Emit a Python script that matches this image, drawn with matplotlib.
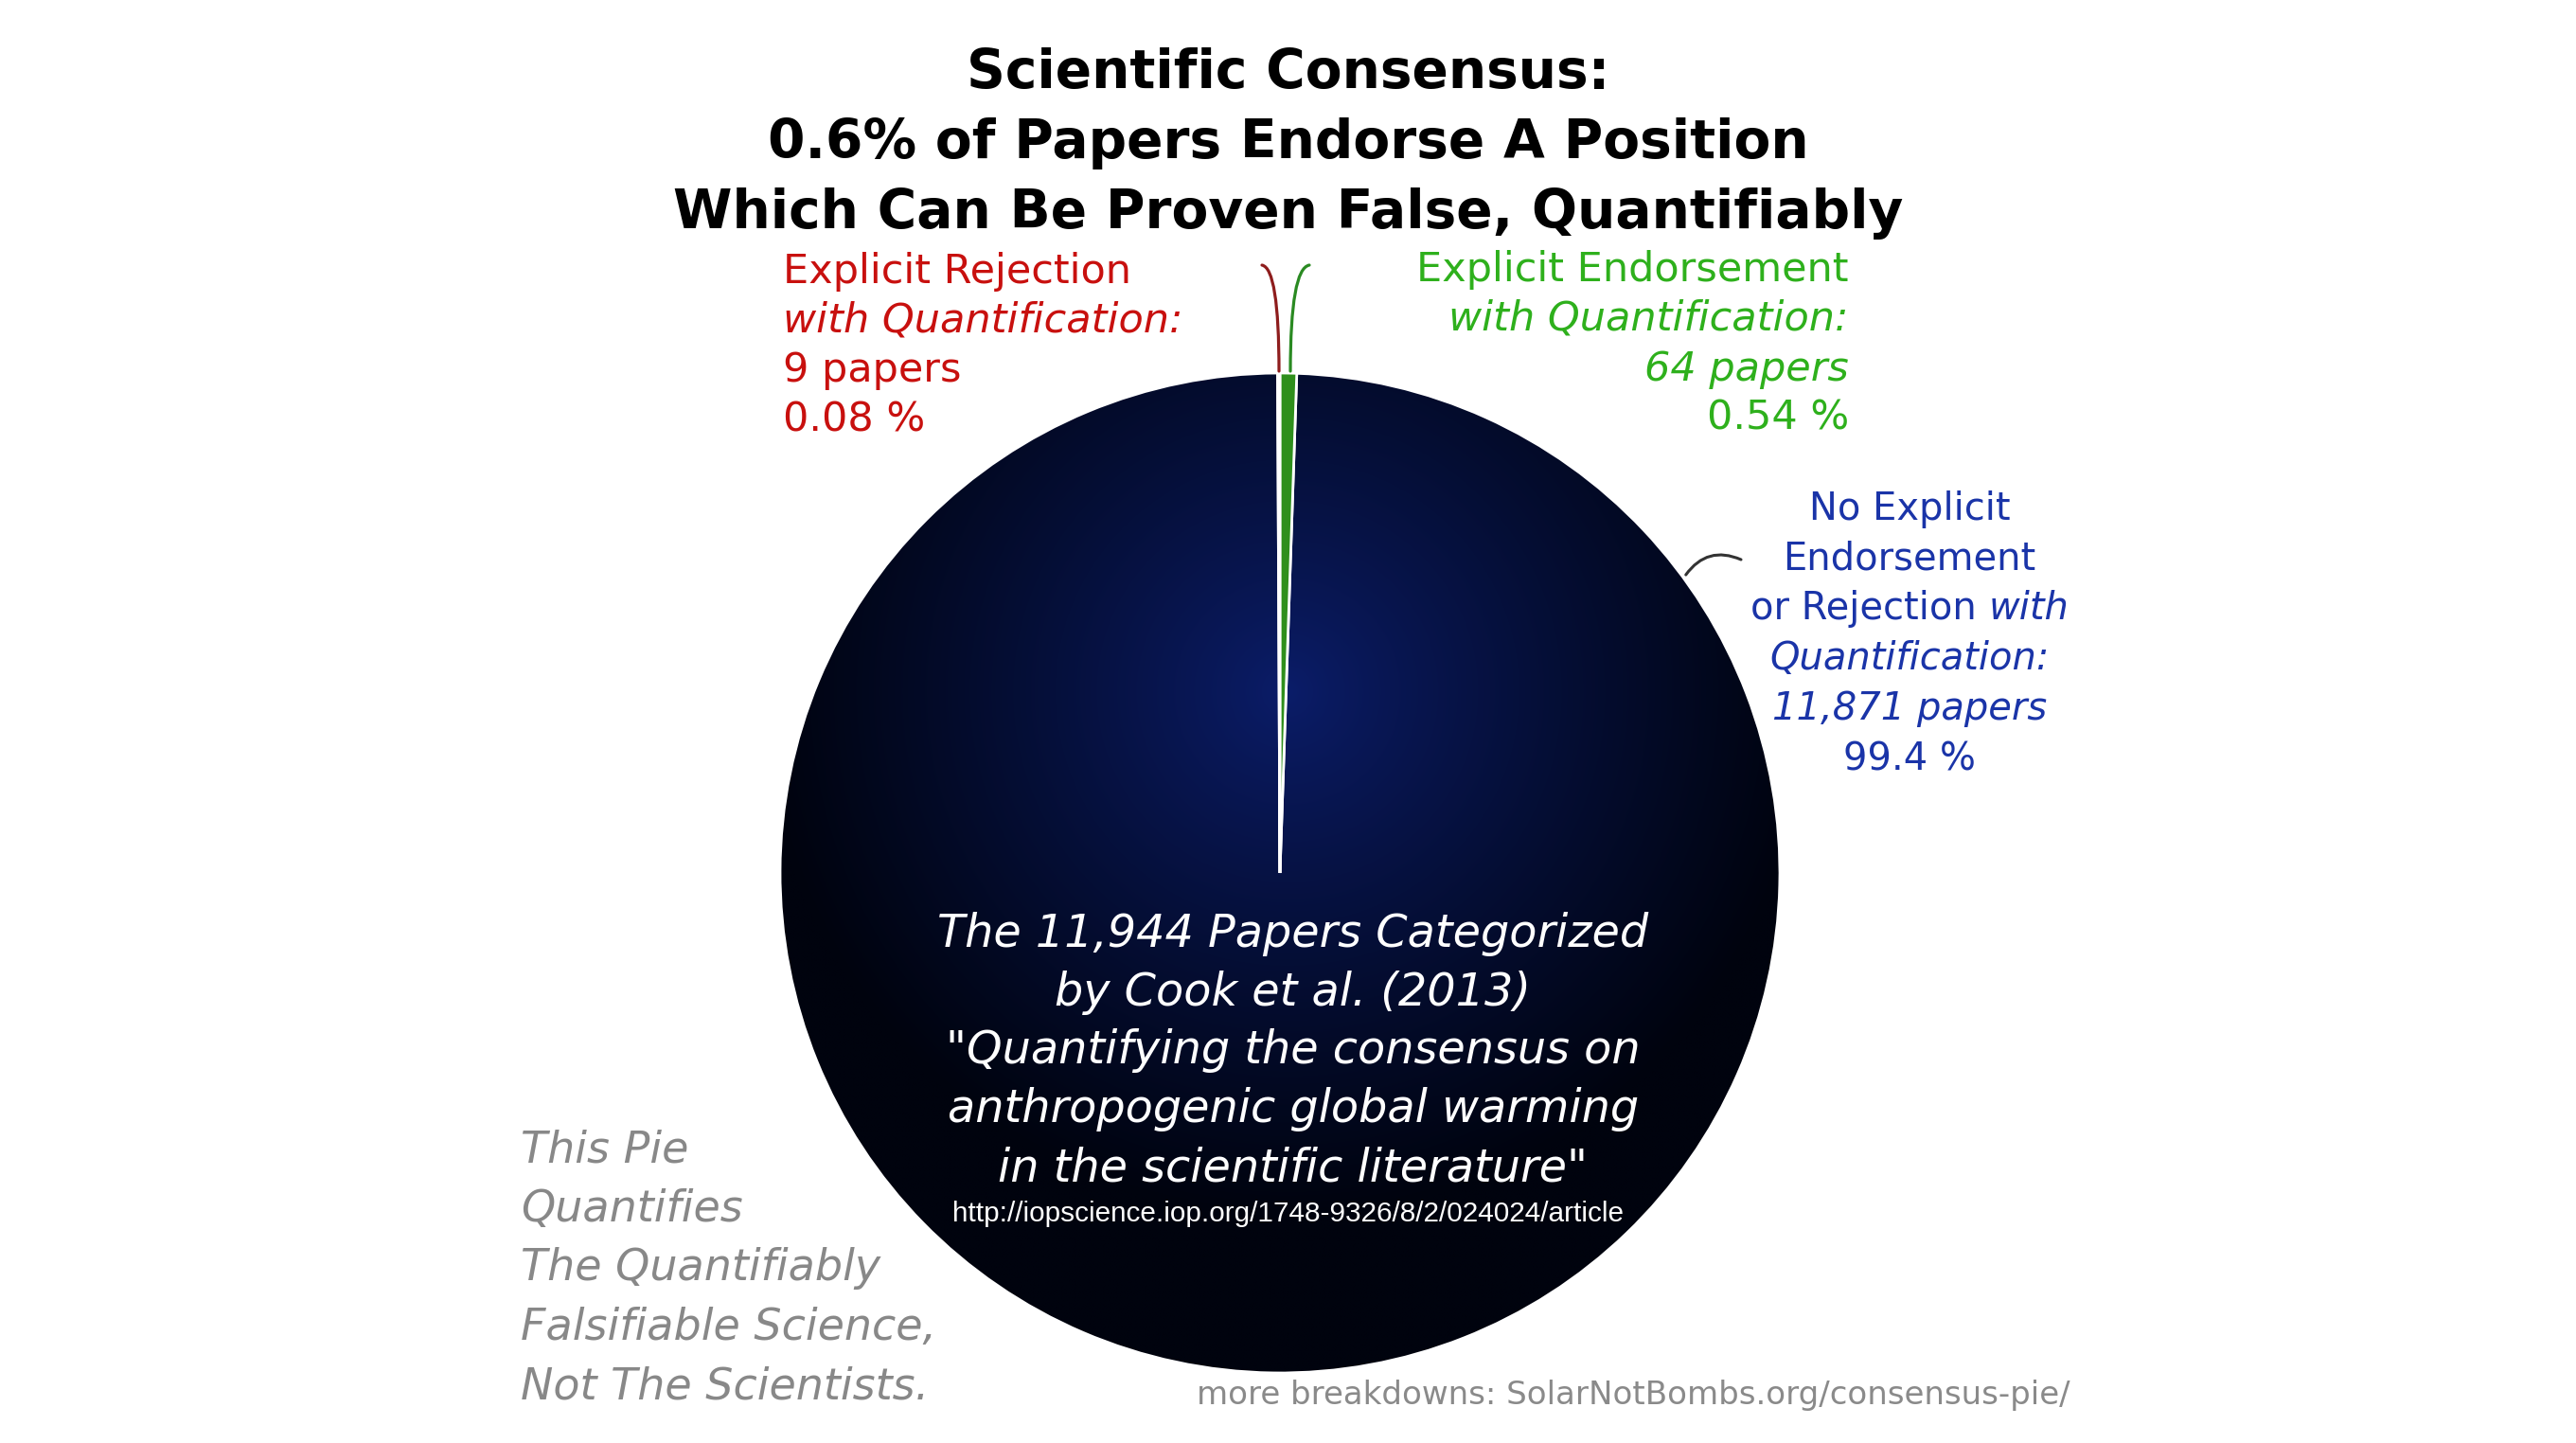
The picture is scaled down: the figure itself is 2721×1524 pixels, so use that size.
import numpy as np
import matplotlib
matplotlib.use("Agg")
from matplotlib import pyplot as plt
from matplotlib.colors import to_rgb

# data (Cook et al. 2013, papers with quantification)
categories = ["Explicit Endorsement", "No Explicit Endorsement or Rejection", "Explicit Rejection"]
counts = [64, 11871, 9]
slice_colors = ["#2f8f1c", "#0a1a5c", "white"]
total_papers = 11944

W, H = 2721, 1524
cx, cy, R = 1352, 922, 528   # pie centre / radius in image pixels


def Y(v):
    # image row -> data y
    return H - v


def pt(px):
    return px * 0.72


fig = plt.figure(figsize=(W / 100, H / 100), dpi=100)
ax = fig.add_axes([0, 0, 1, 1])

wedges, _ = ax.pie(counts, colors=slice_colors, startangle=90, counterclock=False,
                   center=(cx, Y(cy)), radius=R,
                   wedgeprops=dict(edgecolor="white", linewidth=2.0))
ax.set_xlim(0, W)
ax.set_ylim(0, H)
ax.set_aspect("equal")
ax.axis("off")

# radial gradient under the big slice (slice itself only keeps its white edge)
n = 600
xs = np.linspace(cx - R, cx + R, n)
ys = np.linspace(cy - R, cy + R, n)
gx, gy = np.meshgrid(xs, ys)
d = np.hypot(gx - 1360, gy - 730) / (R * 1.05)
d = np.clip(d, 0, 1) ** 0.85
c0 = np.array(to_rgb("#0b1d6a"))
c1 = np.array(to_rgb("#00030e"))
img = c0[None, None, :] * (1 - d[..., None]) + c1[None, None, :] * d[..., None]
big = wedges[1]
im = ax.imshow(img, extent=[cx - R, cx + R, Y(cy + R), Y(cy - R)], origin="upper",
               zorder=big.get_zorder() - 0.1, interpolation="bilinear")
im.set_clip_path(big)
big.set_facecolor("none")
for wd in (wedges[0], wedges[2]):
    wd.set_zorder(big.get_zorder() + 0.1)
ax.set_xlim(0, W)
ax.set_ylim(0, H)

fam = ["DejaVu Sans"]
renderer = fig.canvas.get_renderer()


def width_of(t):
    return t.get_window_extent(renderer).width


# title
title_lines = ["Scientific Consensus:",
               "0.6% of Papers Endorse A Position",
               "Which Can Be Proven False, Quantifiably"]
for line, yb in zip(title_lines, [93, 167, 241]):
    ax.text(1361, Y(yb), line, ha="center", va="baseline", fontsize=pt(56.7),
            fontweight="bold", family=fam, color="black")

pct = [c / total_papers * 100 for c in counts]

# rejection label (left, red)
red = "#c8100e"
red_lines = [("Explicit Rejection", "normal"),
             ("with Quantification:", "italic"),
             ("{} papers".format(counts[2]), "normal"),
             ("{:.2f} %".format(pct[2]), "normal")]
for (line, st), yb in zip(red_lines, [299, 350, 403, 455]):
    ax.text(827, Y(yb), line, ha="left", va="baseline", fontsize=pt(43),
            style=st, family=fam, color=red)

# endorsement label (right-aligned, green)
green = "#2eb01c"
green_lines = [("Explicit Endorsement", "normal"),
               ("with Quantification:", "italic"),
               ("{} papers".format(counts[0]), "italic"),
               ("{:.2f} %".format(pct[0]), "normal")]
for (line, st), yb in zip(green_lines, [297, 348, 402, 453]):
    ax.text(1953, Y(yb), line, ha="right", va="baseline", fontsize=pt(43),
            style=st, family=fam, color=green)

# neutral label (blue, centred)
blue = "#1a34a8"
bfs = pt(40)
blue_lines = [("No Explicit", "normal"),
              ("Endorsement", "normal"),
              None,
              ("Quantification:", "italic"),
              ("{:,} papers".format(counts[1]), "italic"),
              ("{:.1f} %".format(pct[1]), "normal")]
bys = [549, 602, 654, 707, 760, 813]
for item, yb in zip(blue_lines, bys):
    if item is None:
        continue
    ax.text(2017, Y(yb), item[0], ha="center", va="baseline", fontsize=bfs,
            style=item[1], family=fam, color=blue)
# mixed-style line
t1 = ax.text(0, Y(bys[2]), "or Rejection", ha="left", va="baseline", fontsize=bfs,
             family=fam, color=blue)
t2 = ax.text(0, Y(bys[2]), "with", ha="left", va="baseline", fontsize=bfs,
             style="italic", family=fam, color=blue)
w1, w2 = width_of(t1), width_of(t2)
gap = 0.318 * 40
x0 = 2017 - (w1 + gap + w2) / 2
t1.set_x(x0)
t2.set_x(x0 + w1 + gap)

# connector curves
ax.annotate("", xy=(1351, Y(392)), xytext=(1333, Y(280)),
            arrowprops=dict(arrowstyle="-", color="#8e1d1d", lw=2.3,
                            connectionstyle="angle3,angleA=-10,angleB=90",
                            shrinkA=0, shrinkB=0))
ax.annotate("", xy=(1363, Y(392)), xytext=(1383, Y(280)),
            arrowprops=dict(arrowstyle="-", color="#2a8a22", lw=2.3,
                            connectionstyle="angle3,angleA=10,angleB=90",
                            shrinkA=0, shrinkB=0))
ang = np.deg2rad(36.3)
sx, sy = cx + (R + 4) * np.cos(ang), cy - (R + 4) * np.sin(ang)
ax.annotate("", xy=(1839, Y(591)), xytext=(sx, Y(sy)),
            arrowprops=dict(arrowstyle="-", color="#333333", lw=2.2,
                            connectionstyle="arc3,rad=-0.4",
                            shrinkA=0, shrinkB=0))

# text inside the pie
center_lines = ["The 11,944 Papers Categorized",
                "by Cook et al. (2013)",
                "\"Quantifying the consensus on",
                "anthropogenic global warming",
                "in the scientific literature\""]
for line, yb in zip(center_lines, [1000, 1062, 1123, 1185, 1247]):
    ax.text(1366, Y(yb), line, ha="center", va="baseline", fontsize=pt(47.8),
            style="italic", family=fam, color="white", zorder=5)

url = ax.text(1361, Y(1290), "http://iopscience.iop.org/1748-9326/8/2/024024/article",
              ha="center", va="baseline", fontsize=pt(30), color="white", zorder=5,
              family=["Liberation Sans Narrow", "Liberation Sans", "DejaVu Sans"])
url.set_fontsize(url.get_fontsize() * 709 / width_of(url))

# side note
note_lines = ["This Pie", "Quantifies", "The Quantifiably",
              "Falsifiable Science,", "Not The Scientists."]
for line, yb in zip(note_lines, [1228, 1290, 1352, 1415, 1477]):
    ax.text(550, Y(yb), line, ha="left", va="baseline", fontsize=pt(46),
            style="italic", family=fam, color="#888888")

ax.text(2187, Y(1483), "more breakdowns: SolarNotBombs.org/consensus-pie/",
        ha="right", va="baseline", fontsize=pt(34), family=fam, color="#8a8a8a")

fig.savefig("out.png", dpi=100, facecolor="white")
